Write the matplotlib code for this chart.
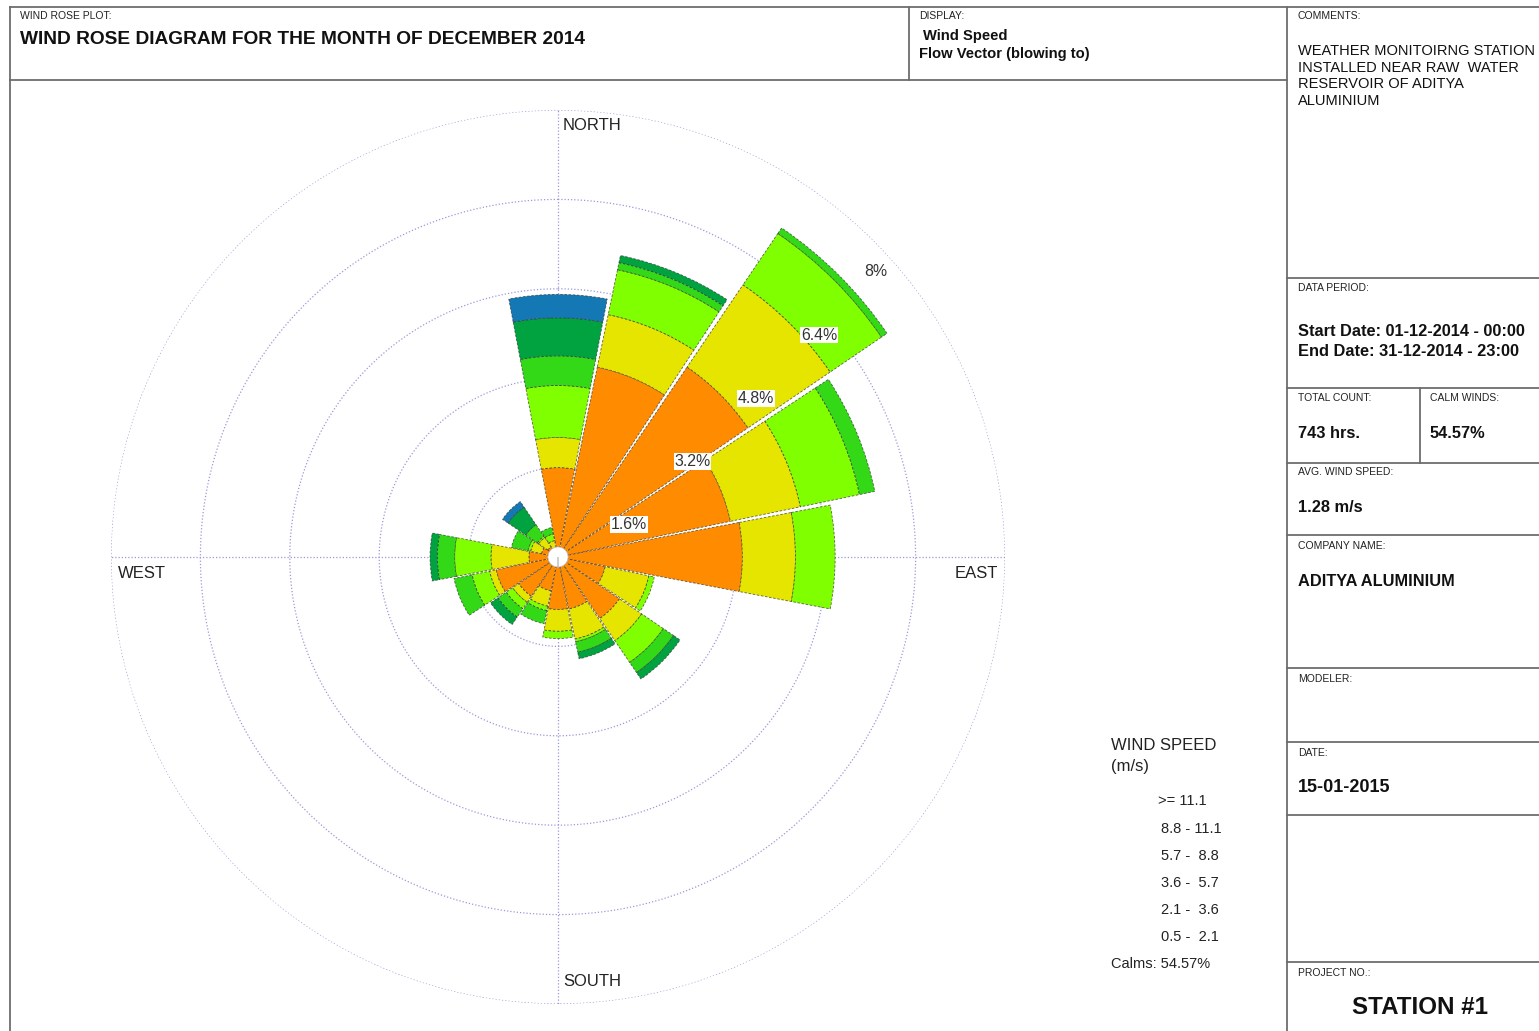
import matplotlib
matplotlib.use("Agg")
import matplotlib.pyplot as plt
import numpy as np

plt.rcParams['font.family'] = ['Liberation Sans', 'DejaVu Sans']

W, H = 1539, 1031

# 16 sectors, compass bearing the wind blows to
directions = ['N', 'NNE', 'NE', 'ENE', 'E', 'ESE', 'SE', 'SSE',
              'S', 'SSW', 'SW', 'WSW', 'W', 'WNW', 'NW', 'NNW']
bearings = np.arange(16) * 22.5

speed_labels = ['0.5 -  2.1', '2.1 -  3.6', '3.6 -  5.7', '5.7 -  8.8', '8.8 - 11.1', '>= 11.1']
speed_colors = ['#FF8C00', '#E5E500', '#80FF00', '#33D916', '#00A33F', '#1478B4']

# frequency (% of all hours) per direction, one list per speed class
freq_05_21 = [1.60, 3.47, 4.11, 3.15, 3.30, 0.86, 1.33, 0.95, 0.94, 0.62, 0.85, 1.13, 0.52, 0.30, 0.22, 0.15]
freq_21_36 = [0.54, 0.96, 1.78, 1.28, 0.95, 0.80, 0.48, 0.55, 0.39, 0.28, 0.13, 0.12, 0.68, 0.20, 0.20, 0.15]
freq_36_57 = [0.93, 0.82, 1.11, 1.08, 0.71, 0.10, 0.47, 0.05, 0.13, 0.08, 0.14, 0.32, 0.65, 0.05, 0.03, 0.12]
freq_57_88 = [0.53, 0.13, 0.12, 0.28, 0.00, 0.00, 0.22, 0.19, 0.00, 0.24, 0.18, 0.33, 0.31, 0.30, 0.25, 0.12]
freq_88_111 = [0.68, 0.13, 0.00, 0.00, 0.00, 0.00, 0.14, 0.12, 0.00, 0.00, 0.16, 0.00, 0.13, 0.00, 0.38, 0.00]
freq_111 = [0.42, 0.00, 0.00, 0.00, 0.00, 0.00, 0.00, 0.00, 0.00, 0.00, 0.00, 0.00, 0.00, 0.00, 0.12, 0.00]
speed_freqs = [freq_05_21, freq_21_36, freq_36_57, freq_57_88, freq_88_111, freq_111]

calms_pct = 54.57
ring_values = [1.6, 3.2, 4.8, 6.4, 8.0]
ring_labels = ['1.6%', '3.2%', '4.8%', '6.4%', '8%']

fig = plt.figure(figsize=(W / 100, H / 100), dpi=100)
fig.patch.set_facecolor('white')

# rose: centre at (558, 557) px, 8% ring at 447 px
cx, cy, R = 558, 557, 447
ax = fig.add_axes([(cx - R) / W, (H - cy - R) / H, 2 * R / W, 2 * R / H], projection='polar')
ax.set_theta_zero_location('N')
ax.set_theta_direction(-1)
ax.set_ylim(0, 8)
ax.axis('off')

grid_kw = dict(color='#9a9ad8', lw=0.9, ls=(0, (1, 1.6)), zorder=1)
t = np.linspace(0, 2 * np.pi, 500)
for r in ring_values:
    ax.plot(t, np.full_like(t, r), **grid_kw)
for a in [0, 90, 180, 270]:
    ax.plot([np.radians(a)] * 2, [0, 8], **grid_kw)

theta = np.radians(bearings)
width = np.radians(21.6)
bottom = np.zeros(16)
for vals, col in zip(speed_freqs, speed_colors):
    vals = np.array(vals)
    m = vals > 0
    ax.bar(theta[m], vals[m], width=width, bottom=bottom[m], color=col,
           edgecolor=(0.2, 0.2, 0.2, 0.75), linewidth=0.6, linestyle=(0, (3, 2)), zorder=3)
    bottom = bottom + vals

# calm circle in the middle
ax.bar(0, 0.18, width=2 * np.pi, bottom=0, color='white', edgecolor='#bbbbbb', lw=0.5, zorder=4)

# ring labels sit just below-right of where the NE diagonal crosses each ring
for val, lab in zip(ring_values, ring_labels):
    box = None if lab == '8%' else dict(facecolor='white', edgecolor='none', pad=0.6)
    dx = 1.4 if lab == '8%' else 5.8
    ax.annotate(lab, xy=(np.radians(45), val), xytext=(dx, -22.3), textcoords='offset points',
                fontsize=11.4, color='#333333', ha='center', va='center', bbox=box, zorder=6)

# page frame, header and side panel in pixel coordinates
fr = fig.add_axes([0, 0, 1, 1])
fr.set_xlim(0, W)
fr.set_ylim(H, 0)
fr.axis('off')
fr.patch.set_visible(False)

lc = dict(color='#6d6d6d', lw=1.3)
fr.plot([10, W], [7, 7], **lc)
fr.plot([10, 10], [7, H], **lc)
fr.plot([10, 1287], [80, 80], **lc)
fr.plot([909, 909], [7, 80], **lc)
fr.plot([1287, 1287], [7, H], **lc)
for y in [278, 388, 463, 535, 668, 742, 815, 962]:
    fr.plot([1287, W], [y, y], **lc)
fr.plot([1420, 1420], [388, 463], **lc)

small = dict(fontsize=7.5, color='#222222', ha='left', va='center')
bold = dict(fontsize=11.8, fontweight='bold', color='#111111', ha='left', va='center')

fr.text(20, 16, 'WIND ROSE PLOT:', **small)
fr.text(20, 39, 'WIND ROSE DIAGRAM FOR THE MONTH OF DECEMBER 2014',
        fontsize=13.8, fontweight='bold', color='#111111', ha='left', va='center')
fr.text(919, 16, 'DISPLAY:', **small)
fr.text(923, 36, 'Wind Speed', fontsize=10.6, fontweight='bold', color='#111111', va='center')
fr.text(919, 54, 'Flow Vector (blowing to)', fontsize=10.6, fontweight='bold', color='#111111', va='center')

fr.text(1298, 16, 'COMMENTS:', **small)
comment = ['WEATHER MONITOIRNG STATION', 'INSTALLED NEAR RAW  WATER',
           'RESERVOIR OF ADITYA', 'ALUMINIUM']
for i, line in enumerate(comment):
    fr.text(1298, 51 + i * 16.7, line, fontsize=10.5, color='#111111', va='center')

fr.text(1298, 288, 'DATA PERIOD:', **small)
fr.text(1298, 331, 'Start Date: 01-12-2014 - 00:00', **bold)
fr.text(1298, 351, 'End Date: 31-12-2014 - 23:00', **bold)
fr.text(1298, 398, 'TOTAL COUNT:', **small)
fr.text(1430, 398, 'CALM WINDS:', **small)
fr.text(1298, 433, '743 hrs.', **bold)
fr.text(1430, 433, f'{calms_pct:.2f}%', **bold)
fr.text(1298, 472, 'AVG. WIND SPEED:', **small)
fr.text(1298, 507, '1.28 m/s', **bold)
fr.text(1298, 546, 'COMPANY NAME:', **small)
fr.text(1298, 582, 'ADITYA ALUMINIUM', **bold)
fr.text(1298, 679, 'MODELER:', **small)
fr.text(1298, 753, 'DATE:', **small)
fr.text(1298, 787, '15-01-2015', fontsize=13, fontweight='bold', color='#111111', va='center')
fr.text(1298, 973, 'PROJECT NO.:', **small)
fr.text(1420, 1008, 'STATION #1', fontsize=17.4, fontweight='bold', color='#111111',
        ha='center', va='center')

# compass labels
comp = dict(fontsize=12, color='#222222', va='center')
fr.text(563, 125, 'NORTH', ha='left', **comp)
fr.text(563, 981, 'SOUTH', ha='left', **comp)
fr.text(118, 573, 'WEST', ha='left', **comp)
fr.text(955, 573, 'EAST', ha='left', **comp)

# legend text
fr.text(1111, 746, 'WIND SPEED', fontsize=12, color='#222222', va='center')
fr.text(1111, 767, '(m/s)', fontsize=12, color='#222222', va='center')
leg_y = [937, 910, 883, 856, 829, 801]
leg_x = [1161, 1161, 1161, 1161, 1161, 1158]
for lab, x, y in zip(speed_labels, leg_x, leg_y):
    fr.text(x, y, lab, fontsize=10.5, color='#222222', va='center')
fr.text(1111, 964, f'Calms: {calms_pct:.2f}%', fontsize=10.5, color='#222222', va='center')

fig.savefig('out.png', dpi=100, facecolor='white')
